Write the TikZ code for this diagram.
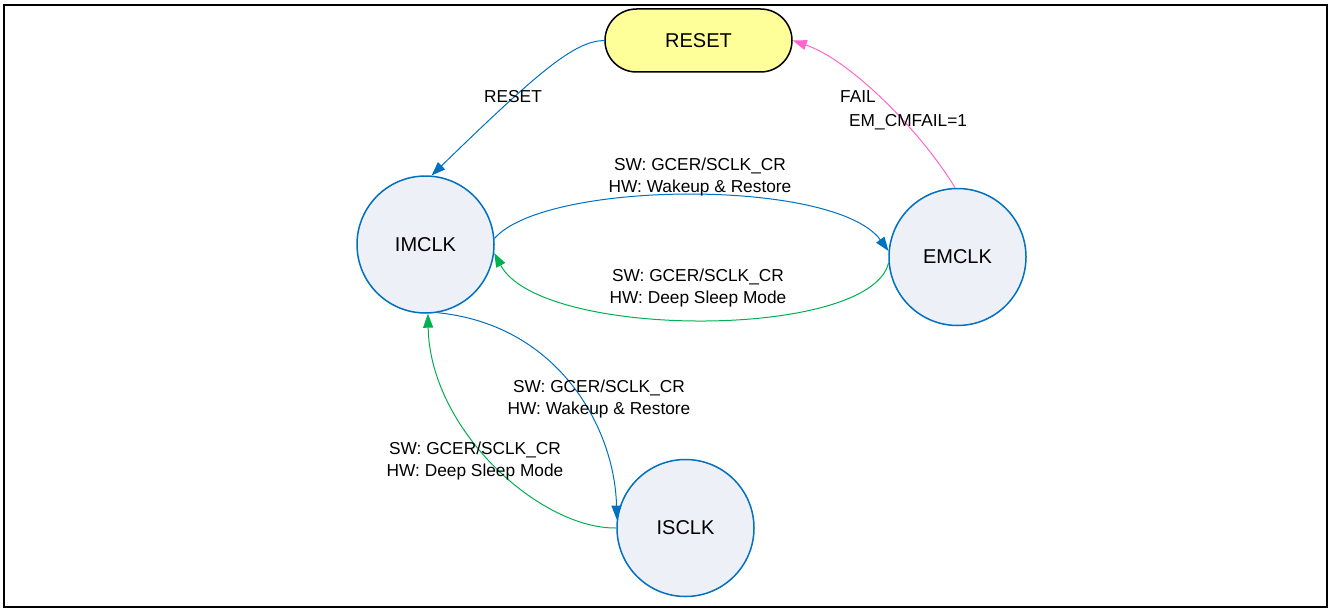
\documentclass[tikz,border=0pt]{standalone}
\usepackage{fontspec}
\setmainfont{Liberation Sans}
\usetikzlibrary{arrows.meta}
\definecolor{eblue}{HTML}{0070C0}
\definecolor{egreen}{HTML}{00B050}
\definecolor{epink}{HTML}{FF66CC}
\definecolor{cfill}{HTML}{EDF0F6}
\definecolor{yfill}{HTML}{FFFF99}
\tikzset{
  state/.style={circle, draw=eblue, line width=1.5pt, fill=cfill, minimum size=137pt, inner sep=0pt, font=\fontsize{20pt}{24pt}\selectfont},
  startstate/.style={rectangle, rounded corners=31.5pt, draw=black, line width=1.5pt, fill=yfill, minimum width=187pt, minimum height=63pt, inner sep=0pt, font=\fontsize{20pt}{24pt}\selectfont},
  lbl/.style={align=center, inner sep=0pt, font=\fontsize{17.3pt}{21.5pt}\selectfont},
  tr/.style={line width=1pt, -{Triangle[length=14pt,width=10pt]}},
}
\begin{document}
\begin{tikzpicture}[x=1pt,y=-1pt]
\useasboundingbox (0,0) rectangle (1333,610);
\draw[line width=2pt] (4,5) rectangle (1327,607);

\node[startstate] (RS) at (698.5,40.5) {RESET};
\node[state] (IM) at (425.5,244.5) {IMCLK};
\node[state] (EM) at (957.5,257) {EMCLK};
\node[state] (IS) at (685.5,528) {ISCLK};

% RESET -> IMCLK
\draw[tr, eblue] (RS.west) .. controls (575,41) and (540,70) .. (IM.85);
\node[lbl] (l1) at (513,97) {RESET};

% EMCLK -> RESET
\draw[tr, epink] (EM.92) .. controls (920,130) and (850,60) .. (RS.east);
\node[lbl, align=left, anchor=north west, font=\fontsize{17.3pt}{24pt}\selectfont] (l2) at (840,90) {FAIL\\\hspace{9pt}EM\_CMFAIL=1};

% IMCLK -> EMCLK
\draw[tr, eblue] (IM.5) .. controls (545,180) and (835,178) .. (EM.175);
\node[lbl] (l3) at (700,177) {SW: GCER/SCLK\_CR\\HW: Wakeup \& Restore};

% EMCLK -> IMCLK
\draw[tr, egreen] (EM.185) .. controls (870,340) and (540,340) .. (IM.-7);
\node[lbl] (l4) at (698,288) {SW: GCER/SCLK\_CR\\HW: Deep Sleep Mode};

% IMCLK -> ISCLK
\draw[tr, eblue] (IM.-80) .. controls (560,325) and (615,430) .. (IS.173);
\node[lbl] (l5) at (599,399) {SW: GCER/SCLK\_CR\\HW: Wakeup \& Restore};

% ISCLK -> IMCLK
\draw[tr, egreen] (IS.180) .. controls (540,529) and (430,430) .. (IM.-88);
\node[lbl] (l6) at (475,461) {SW: GCER/SCLK\_CR\\HW: Deep Sleep Mode};
\end{tikzpicture}
\end{document}
